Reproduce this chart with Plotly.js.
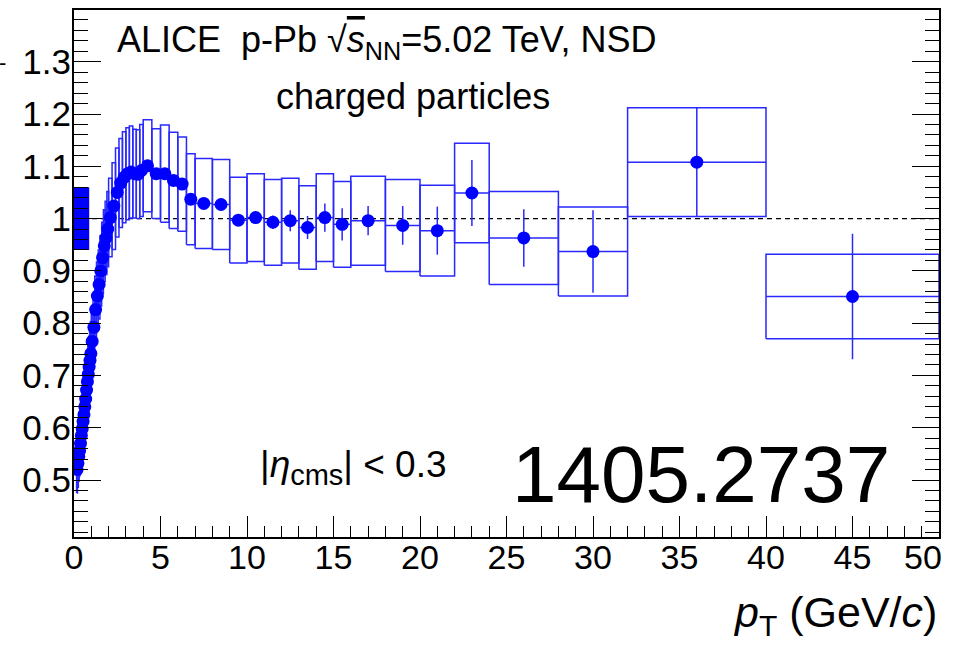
<!DOCTYPE html>
<html>
<head>
<meta charset="utf-8">
<script src="https://cdn.plot.ly/plotly-3.0.1.min.js"></script>
<style>html,body{margin:0;padding:0;background:#fff;}#chart{width:959px;height:645px;}</style>
</head>
<body>
<div id="chart"></div>
<script>
// pT bin edges (GeV/c)
const binEdges = [0.15,0.2,0.25,0.3,0.35,0.4,0.45,0.5,0.55,0.6,0.65,0.7,0.75,0.8,0.85,0.9,0.95,1.0,
  1.1,1.2,1.3,1.4,1.5,1.6,1.7,1.8,1.9,2.0,
  2.2,2.4,2.6,2.8,3.0,3.2,3.4,3.6,3.8,4.0,
  4.5,5.0,5.5,6.0,6.5,7,
  8,9,10,11,12,13,14,15,16,
  18,20,22,24,28,32,40,50];
// R_pPb values
const rpPb = [0.520,0.532,0.545,0.556,0.570,0.585,0.598,0.612,0.625,0.640,0.655,0.672,0.688,0.702,0.716,0.729,0.742,
  0.765,0.792,0.826,0.852,0.874,0.900,0.925,0.948,0.963,0.980,
  1.002,1.024,1.050,1.068,1.079,1.086,1.089,1.086,1.085,1.092,
  1.101,1.086,1.086,1.073,1.066,1.037,
  1.029,1.027,0.997,1.002,0.993,0.996,0.983,1.002,0.989,
  0.996,0.987,0.977,1.049,0.963,0.937,1.108,0.851];
// statistical uncertainties
const statErr = [0.004,0.004,0.004,0.004,0.004,0.004,0.004,0.004,0.004,0.004,0.004,0.004,0.004,0.004,0.004,0.004,0.004,
  0.004,0.004,0.004,0.004,0.004,0.004,0.004,0.004,0.004,0.004,
  0.004,0.004,0.004,0.004,0.004,0.004,0.004,0.004,0.004,0.004,
  0.004,0.004,0.004,0.005,0.005,0.006,
  0.006,0.007,0.008,0.010,0.013,0.020,0.022,0.027,0.031,
  0.028,0.037,0.046,0.063,0.055,0.079,0.104,0.120];
// systematic uncertainties
const sysErr = [0.045,0.046,0.047,0.048,0.049,0.050,0.051,0.052,0.053,0.054,0.055,0.056,0.057,0.058,0.059,0.060,0.061,
  0.062,0.063,0.064,0.065,0.066,0.067,0.068,0.069,0.070,0.072,
  0.075,0.083,0.085,0.085,0.087,0.088,0.088,0.085,0.085,0.088,
  0.088,0.086,0.093,0.092,0.090,0.087,
  0.086,0.086,0.082,0.084,0.082,0.081,0.080,0.084,0.082,
  0.085,0.088,0.087,0.095,0.089,0.085,0.104,0.081];
// normalisation uncertainty
const normUnc = 0.06;
const yTickVals = [0.5,0.6,0.7,0.8,0.9,1.0,1.1,1.2,1.3];
const yTickText = ['0.5','0.6','0.7','0.8','0.9','1','1.1','1.2','1.3'];
const xTickVals = [0,5,10,15,20,25,30,35,40,45,50];
const xTickText = ['0','5','10','15','20','25','30','35','40','45',''];
const xLastLabel = '50';

const BLUE = 'rgb(0,0,255)';
const LINEBLUE = 'rgb(40,40,255)';
const FONT = 'Liberation Sans, Arial, Helvetica, sans-serif';

const xc = [], xhw = [];
for (let i = 0; i < rpPb.length; i++) {
  xc.push((binEdges[i] + binEdges[i+1]) / 2);
  xhw.push((binEdges[i+1] - binEdges[i]) / 2);
}
const bx = [], by = [];
for (let i = 0; i < rpPb.length; i++) {
  const lo = binEdges[i], hi = binEdges[i+1];
  const y0 = rpPb[i] - sysErr[i], y1 = rpPb[i] + sysErr[i];
  bx.push(lo, hi, hi, lo, lo, null);
  by.push(y0, y0, y1, y1, y0, null);
}
const normW = 0.88;

const traces = [
  { type:'scatter', mode:'lines', x:[0,normW,normW,0,0], y:[1-normUnc,1-normUnc,1+normUnc,1+normUnc,1-normUnc],
    fill:'toself', fillcolor:BLUE, line:{color:BLUE, width:0}, hoverinfo:'skip', showlegend:false },
  { type:'scatter', mode:'lines', x:bx, y:by, line:{color:LINEBLUE, width:1.5}, hoverinfo:'skip', showlegend:false },
  { type:'scatter', mode:'markers', x:xc, y:rpPb,
    marker:{color:BLUE, size:13, symbol:'circle'},
    error_y:{type:'data', array:statErr, visible:true, color:LINEBLUE, thickness:1.5, width:0},
    error_x:{type:'data', array:xhw, visible:true, color:LINEBLUE, thickness:1.5, width:0},
    showlegend:false }
];

const layout = {
  width:959, height:645,
  margin:{l:74, r:20, t:10, b:108, pad:0},
  paper_bgcolor:'#fff', plot_bgcolor:'#fff',
  font:{family:FONT, color:'#000'},
  showlegend:false,
  xaxis:{range:[0,50], tickmode:'array', tickvals:xTickVals, ticktext:xTickText,
    ticks:'inside', ticklen:21, tickwidth:1, tickcolor:'#000',
    minor:{dtick:1, tick0:0, ticks:'inside', ticklen:11, tickwidth:1, tickcolor:'#000'},
    showline:true, linecolor:'#000', linewidth:2, mirror:true, showgrid:false, zeroline:false,
    ticklabelstandoff:-11,
    tickfont:{size:34, family:FONT, color:'#000'}},
  yaxis:{range:[0.391,1.399], tickmode:'array', tickvals:yTickVals, ticktext:yTickText,
    ticks:'inside', ticklen:27, tickwidth:1, tickcolor:'#000',
    minor:{dtick:0.02, tick0:0, ticks:'inside', ticklen:14, tickwidth:1, tickcolor:'#000'},
    showline:true, linecolor:'#000', linewidth:2, mirror:'ticks', showgrid:false, zeroline:false,
    ticklabelstandoff:-6,
    tickfont:{size:35, family:FONT, color:'#000'}},
  shapes:[
    {type:'line', xref:'x', yref:'y', x0:0, x1:50, y0:1, y1:1, line:{color:'#000', width:1.2, dash:'5px,4px'}, layer:'below'}
  ],
  annotations:[
    {xref:'x', yref:'paper', x:50, y:-0.0385, xanchor:'right', yanchor:'middle', showarrow:false, xshift:5,
      text:xLastLabel, font:{size:34, family:FONT}},
    {xref:'paper', yref:'paper', x:0.0474, y:0.9392, xanchor:'left', yanchor:'middle', showarrow:false,
      text:'ALICE  p-Pb √<span style="text-decoration:overline"><i>s</i></span><sub>NN</sub>=5.02 TeV, NSD', font:{size:36, family:FONT}},
    {xref:'paper', yref:'paper', x:0.392, y:0.8367, xanchor:'center', yanchor:'middle', showarrow:false,
      text:'charged particles', font:{size:36, family:FONT}},
    {xref:'paper', yref:'paper', x:0.213, y:0.1323, xanchor:'left', yanchor:'middle', showarrow:false,
      text:'|<i>η</i><sub><span style="font-size:29px">cms</span></sub>| < 0.3', font:{size:37, family:FONT}},
    {xref:'paper', yref:'paper', x:0.504, y:0.119, xanchor:'left', yanchor:'middle', showarrow:false,
      text:'1405.2737', font:{size:80, family:FONT}},
    {xref:'paper', yref:'paper', x:1, y:-0.1487, xanchor:'right', yanchor:'middle', showarrow:false,
      text:'<i>p</i><sub>T</sub> (GeV/<i>c</i>)', font:{size:43, family:FONT}},
    {xref:'paper', yref:'paper', x:-0.0855, y:0.9, xanchor:'left', yanchor:'middle', showarrow:false, xshift:-3,
      text:'-', font:{size:22, family:FONT}}
  ]
};

Plotly.newPlot('chart', traces, layout, {staticPlot:true, displayModeBar:false});
</script>
</body>
</html>
